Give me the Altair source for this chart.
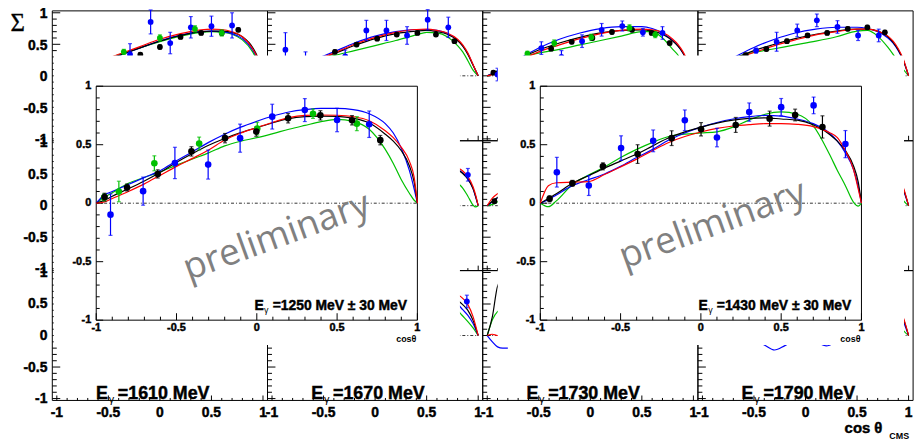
import altair as alt
import pandas as pd

# ======================= DATA =======================
BG_ENERGIES = ["1610", "1670", "1730", "1790"]
INSET_TEXT = ["=1250 MeV \u00b1 30 MeV", "=1430 MeV \u00b1 30 MeV"]

# ---- inset 1 : E = 1250 MeV ----
I1_A_COS = [-0.948, -0.808, -0.617, -0.407, -0.198, -0.003, 0.195, 0.396, 0.593, 0.769]
I1_A_SIG = [0.052, 0.134, 0.250, 0.443, 0.556, 0.612, 0.726, 0.751, 0.709, 0.539]
I1_A_ERR = [0.033, 0.030, 0.035, 0.040, 0.040, 0.040, 0.040, 0.040, 0.040, 0.040]
I1_B_COS = [-0.911, -0.708, -0.510, -0.303, -0.104, 0.096, 0.299, 0.500, 0.700]
I1_B_SIG = [-0.098, 0.103, 0.344, 0.330, 0.556, 0.740, 0.796, 0.711, 0.675]
I1_B_ERR = [0.177, 0.120, 0.134, 0.124, 0.120, 0.106, 0.098, 0.100, 0.113]
I1_C_COS = [-0.950, -0.859, -0.638, -0.359, 0.003, 0.350, 0.623]
I1_C_SIG = [0.050, 0.100, 0.341, 0.510, 0.638, 0.765, 0.680]
I1_C_ERR = [0.030, 0.088, 0.064, 0.055, 0.054, 0.040, 0.060]

I_CURVE_COS = [-1.0, -0.95, -0.9, -0.8, -0.7, -0.6, -0.5, -0.4, -0.3, -0.2, -0.1, 0.0,
               0.1, 0.2, 0.3, 0.4, 0.5, 0.6, 0.7, 0.8, 0.85, 0.9, 0.95, 0.98, 1.0]
I1_M1 = [0, 0.024, 0.06, 0.123, 0.19, 0.264, 0.35, 0.425, 0.495, 0.553, 0.603, 0.646,
         0.688, 0.723, 0.740, 0.745, 0.742, 0.726, 0.685, 0.59, 0.53, 0.448, 0.32, 0.18, 0]
I1_M2 = [0, 0.01, 0.04, 0.10, 0.165, 0.24, 0.315, 0.383, 0.455, 0.54, 0.60, 0.646,
         0.692, 0.731, 0.75, 0.754, 0.752, 0.74, 0.705, 0.62, 0.56, 0.477, 0.36, 0.22, 0]
I1_M3 = [0, 0.07, 0.10, 0.16, 0.22, 0.28, 0.363, 0.44, 0.52, 0.59, 0.65, 0.70,
         0.745, 0.78, 0.80, 0.81, 0.81, 0.80, 0.765, 0.68, 0.60, 0.47, 0.28, 0.12, 0]
I1_M4 = [0, 0.05, 0.09, 0.17, 0.22, 0.27, 0.325, 0.378, 0.43, 0.49, 0.53, 0.56,
         0.595, 0.632, 0.665, 0.697, 0.717, 0.70, 0.632, 0.46, 0.34, 0.20, 0.085, 0.025, 0]

# ---- inset 2 : E = 1430 MeV ----
I2_A_COS = [-0.942, -0.800, -0.610, -0.394, -0.182, 0.001, 0.217, 0.428, 0.587, 0.757]
I2_A_SIG = [0.038, 0.170, 0.315, 0.420, 0.556, 0.632, 0.669, 0.723, 0.754, 0.652]
I2_A_ERR = [0.025, 0.025, 0.030, 0.080, 0.063, 0.057, 0.064, 0.064, 0.050, 0.095]
I2_B_COS = [-0.897, -0.698, -0.497, -0.297, -0.100, 0.100, 0.301, 0.500, 0.702, 0.900]
I2_B_SIG = [0.265, 0.151, 0.471, 0.533, 0.709, 0.561, 0.779, 0.821, 0.836, 0.505]
I2_B_ERR = [0.127, 0.085, 0.105, 0.093, 0.088, 0.079, 0.078, 0.074, 0.071, 0.116]
I2_M1 = [0, 0.04, 0.08, 0.17, 0.235, 0.30, 0.36, 0.42, 0.49, 0.56, 0.61, 0.65,
         0.685, 0.71, 0.725, 0.73, 0.72, 0.71, 0.67, 0.59, 0.53, 0.45, 0.32, 0.18, 0]
I2_M2 = [0, 0.15, 0.175, 0.18, 0.185, 0.245, 0.31, 0.377, 0.45, 0.519, 0.57, 0.609,
         0.64, 0.66, 0.672, 0.68, 0.68, 0.674, 0.655, 0.604, 0.56, 0.448, 0.29, 0.12, 0]
I2_M3 = [0, 0.03, 0.07, 0.15, 0.20, 0.25, 0.315, 0.39, 0.46, 0.54, 0.60, 0.65,
         0.69, 0.72, 0.74, 0.75, 0.745, 0.72, 0.68, 0.60, 0.53, 0.43, 0.29, 0.14, 0]
I2_M4 = [0, -0.03, 0.02, 0.16, 0.24, 0.31, 0.39, 0.46, 0.52, 0.57, 0.59, 0.60,
         0.61, 0.65, 0.71, 0.76, 0.78, 0.76, 0.66, 0.42, 0.28, 0.15, 0.01, -0.025, 0]

# ---- background grid, top row (only the upper part is visible) ----
T0_A_COS = [-0.19, 0.0, 0.20, 0.40, 0.60, 0.76]
T0_A_SIG = [0.335, 0.457, 0.617, 0.68, 0.68, 0.73]
T0_A_ERR = [0.03, 0.03, 0.03, 0.03, 0.03, 0.03]
T0_B_COS = [-0.29, -0.09, 0.10, 0.30, 0.50, 0.70]
T0_B_SIG = [0.34, 0.855, 0.52, 0.77, 0.787, 0.80]
T0_B_ERR = [0.17, 0.19, 0.17, 0.17, 0.16, 0.20]
T0_C_COS = [-0.35, 0.0, 0.34, 0.60]
T0_C_SIG = [0.38, 0.60, 0.745, 0.68]
T0_C_ERR = [0.04, 0.05, 0.05, 0.05]
T0_CURVE_COS = [-0.6, -0.5, -0.35, -0.2, 0.0, 0.2, 0.4, 0.5, 0.6, 0.7, 0.8, 0.9, 0.95, 1.0]
T0_M1 = [0.20, 0.27, 0.35, 0.44, 0.55, 0.64, 0.70, 0.71, 0.71, 0.69, 0.62, 0.45, 0.29, 0]
T0_M2 = [0.20, 0.28, 0.37, 0.46, 0.58, 0.67, 0.73, 0.74, 0.735, 0.70, 0.62, 0.43, 0.27, 0]
T0_M3 = [0.20, 0.27, 0.35, 0.44, 0.555, 0.645, 0.70, 0.71, 0.70, 0.67, 0.59, 0.41, 0.26, 0]
T0_M4 = [0.21, 0.28, 0.36, 0.44, 0.54, 0.63, 0.69, 0.70, 0.69, 0.66, 0.57, 0.38, 0.22, 0]

T1_A_COS = [-0.39, -0.18, 0.02, 0.21, 0.41, 0.59, 0.77]
T1_A_SIG = [0.38, 0.495, 0.59, 0.655, 0.68, 0.655, 0.55]
T1_A_ERR = [0.03, 0.03, 0.03, 0.03, 0.03, 0.03, 0.03]
T1_B_COS = [-0.87, -0.675, -0.29, -0.085, 0.11, 0.31, 0.51, 0.71]
T1_B_SIG = [0.415, 0.18, 0.31, 0.72, 0.72, 0.64, 0.89, 0.77]
T1_B_ERR = [0.27, 0.20, 0.10, 0.16, 0.16, 0.14, 0.16, 0.16]
T1_CURVE_COS = [-0.6, -0.4, -0.2, 0.0, 0.2, 0.4, 0.5, 0.6, 0.7, 0.8, 0.85, 0.9, 0.95, 1.0]
T1_M1 = [0.23, 0.35, 0.48, 0.59, 0.67, 0.71, 0.72, 0.70, 0.66, 0.56, 0.47, 0.34, 0.17, 0]
T1_M2 = [0.24, 0.36, 0.50, 0.61, 0.69, 0.735, 0.74, 0.72, 0.68, 0.58, 0.49, 0.36, 0.18, 0]
T1_M3 = [0.25, 0.38, 0.52, 0.63, 0.70, 0.735, 0.735, 0.72, 0.67, 0.57, 0.48, 0.35, 0.17, 0]
T1_M4 = [0.22, 0.32, 0.40, 0.48, 0.56, 0.65, 0.69, 0.68, 0.62, 0.48, 0.38, 0.24, 0.09, 0]

T2_A_COS = [-0.94, -0.38, -0.18, 0.02, 0.21, 0.405, 0.595, 0.77]
T2_A_SIG = [0.05, 0.43, 0.54, 0.60, 0.695, 0.73, 0.68, 0.52]
T2_A_ERR = [0.03, 0.03, 0.03, 0.03, 0.03, 0.03, 0.03, 0.03]
T2_B_COS = [-0.90, -0.475, -0.28, -0.08, 0.11, 0.31, 0.51, 0.70]
T2_B_SIG = [0.02, 0.44, 0.30, 0.55, 0.73, 0.79, 0.69, 0.68]
T2_B_ERR = [0.10, 0.10, 0.10, 0.10, 0.10, 0.08, 0.06, 0.10]
T2_C_COS = [-0.61, -0.35, 0.01, 0.38, 0.63]
T2_C_SIG = [0.35, 0.52, 0.61, 0.76, 0.655]
T2_C_ERR = [0.04, 0.05, 0.05, 0.05, 0.05]
T2_CURVE_COS = [-1.0, -0.95, -0.9, -0.8, -0.65, -0.5, -0.3, -0.1, 0.1, 0.3, 0.5, 0.6, 0.7,
                0.8, 0.85, 0.9, 0.95, 1.0]
T2_M1 = [0, 0.03, 0.07, 0.16, 0.30, 0.41, 0.52, 0.61, 0.68, 0.72, 0.73, 0.71, 0.66, 0.55, 0.47, 0.36, 0.20, 0]
T2_M2 = [0, 0.02, 0.05, 0.13, 0.27, 0.38, 0.49, 0.59, 0.67, 0.72, 0.74, 0.73, 0.69, 0.58, 0.50, 0.38, 0.21, 0]
T2_M3 = [0, 0.04, 0.08, 0.17, 0.31, 0.44, 0.58, 0.68, 0.75, 0.78, 0.78, 0.75, 0.68, 0.56, 0.48, 0.36, 0.20, 0]
T2_M4 = [0, 0.03, 0.08, 0.17, 0.30, 0.36, 0.42, 0.49, 0.56, 0.63, 0.70, 0.70, 0.60, 0.42, 0.33, 0.20, 0.08, 0]

T3_A_COS = [-0.58, -0.38, -0.18, 0.02, 0.21, 0.41, 0.60, 0.77]
T3_A_SIG = [0.33, 0.425, 0.55, 0.64, 0.68, 0.745, 0.77, 0.69]
T3_A_ERR = [0.03, 0.03, 0.03, 0.03, 0.03, 0.03, 0.03, 0.03]
T3_B_COS = [-0.48, -0.28, -0.08, 0.11, 0.31, 0.51, 0.71]
T3_B_SIG = [0.40, 0.54, 0.72, 0.88, 0.775, 0.64, 0.64]
T3_B_ERR = [0.04, 0.15, 0.10, 0.10, 0.10, 0.08, 0.10]
T3_CURVE_COS = [-0.8, -0.65, -0.5, -0.3, -0.1, 0.1, 0.3, 0.5, 0.6, 0.7, 0.8, 0.85, 0.9, 0.95, 1.0]
T3_M1 = [0.18, 0.30, 0.40, 0.50, 0.59, 0.66, 0.71, 0.74, 0.74, 0.71, 0.62, 0.53, 0.41, 0.24, 0]
T3_M2 = [0.16, 0.28, 0.37, 0.48, 0.57, 0.65, 0.70, 0.74, 0.74, 0.71, 0.63, 0.55, 0.43, 0.26, 0]
T3_M3 = [0.20, 0.33, 0.45, 0.58, 0.68, 0.74, 0.77, 0.77, 0.75, 0.70, 0.60, 0.52, 0.40, 0.24, 0]
T3_M4 = [0.19, 0.31, 0.37, 0.43, 0.49, 0.55, 0.62, 0.71, 0.72, 0.63, 0.45, 0.34, 0.22, 0.10, 0]

# ---- middle row (only slivers visible) ----
M1_B_COS = [0.90]
M1_B_SIG = [0.49]
M1_B_ERR = [0.10]
M1_CURVE_COS = [0.6, 0.7, 0.8, 0.85, 0.9, 0.95, 0.975, 1.0]
M1_M1 = [0.70, 0.66, 0.57, 0.51, 0.42, 0.27, 0.15, 0]
M1_M2 = [0.72, 0.68, 0.60, 0.55, 0.46, 0.30, 0.17, 0]
M1_M3 = [0.71, 0.67, 0.58, 0.52, 0.43, 0.27, 0.14, 0]
M1_M4 = [0.60, 0.50, 0.36, 0.28, 0.15, 0.01, -0.02, 0]
M2_A_COS = [-0.93]
M2_A_SIG = [0.07]
M2_A_ERR = [0.03]
M2_CURVE_COS = [-1.0, -0.95, -0.9, -0.8, -0.6]
M2_M1 = [0, 0.07, 0.13, 0.22, 0.35]
M2_M2 = [0, 0.12, 0.19, 0.25, 0.35]
M2_M3 = [0, 0.06, 0.12, 0.21, 0.34]
M2_M4 = [0, 0.02, 0.06, 0.15, 0.30]
M3_CURVE_COS = [0.8, 0.9, 0.95, 1.0]
M3_M1 = [0.60, 0.42, 0.26, 0]
M3_M2 = [0.62, 0.45, 0.28, 0]
M3_M3 = [0.58, 0.40, 0.24, 0]
M3_M4 = [0.45, 0.22, 0.08, 0]

# ---- bottom row ----
B1_B_COS = [0.89]
B1_B_SIG = [0.54]
B1_B_ERR = [0.10]
B1_CURVE_COS = [0.7, 0.8, 0.85, 0.9, 0.95, 1.0]
B1_M1 = [0.66, 0.56, 0.49, 0.40, 0.24, 0]
B1_M2 = [0.74, 0.65, 0.59, 0.49, 0.30, 0]
B1_M3 = [0.62, 0.50, 0.41, 0.32, 0.19, 0]
B1_M4 = [0.55, 0.40, 0.31, 0.22, 0.12, 0]
B2_CURVE_COS = [-1.0, -0.95, -0.9, -0.85, -0.8]
B2_M1 = [0, 0.30, 0.78, 0.90, 0.90]
B2_M2 = [0, 0.02, 0.00, 0.02, 0.05]
B2_M3 = [0, -0.10, -0.18, -0.20, -0.20]
B2_M4 = [0, 0.25, 0.38, 0.42, 0.45]
B3_CURVE_COS = [-0.6, -0.5, -0.4, -0.3, -0.2, -0.1, 0.0, 0.1, 0.2, 0.3, 0.4, 0.8, 0.9, 0.95, 1.0]
B3_M3 = [0.0, -0.07, -0.15, -0.23, -0.16, -0.08, -0.04, -0.10, -0.165, -0.10, 0.0, 0.55, 0.38, 0.22, 0]
B3_END_COS = [0.8, 0.9, 0.95, 1.0]
B3_M1 = [0.60, 0.42, 0.26, 0]
B3_M2 = [0.62, 0.45, 0.28, 0]
B3_M4 = [0.45, 0.22, 0.08, 0]

# axis ticks and labels
TICKS = [-1.0, -0.9, -0.8, -0.7, -0.6, -0.5, -0.4, -0.3, -0.2, -0.1, 0.0,
         0.1, 0.2, 0.3, 0.4, 0.5, 0.6, 0.7, 0.8, 0.9, 1.0]
MAJOR = [-1.0, -0.5, 0.0, 0.5, 1.0]
LABELS = ["-1", "-0.5", "0", "0.5", "1"]

# ======================= LAYOUT / STYLE =======================
PAGE = 8
W, H = 914, 434
COL_EDGES = [52.7, 269.8, 486.9, 704.0, 921.1]
ROW_EDGES = [9.0, 140.0, 271.0, 402.0]
BG_XD, BG_YD = 1.0438, 1.03
INSET_X = [(97, 421), (545, 869)]
INSET_Y = (321, 85)
WHITE = (1.265, -1.212, 1.263)

FONT = "Liberation Sans"
BOLD = dict(font=FONT, fontWeight="bold", stroke="black", strokeWidth=0.45)
SETS = ["A", "B", "C", "M1", "M2", "M3", "M4"]
COLORS = ["#000000", "#0000ff", "#00c000", "#000000", "#ff0000", "#0000ff", "#00c000"]
COL = alt.Color("set:N", scale=alt.Scale(domain=SETS, range=COLORS), legend=None)


def lin(dom, rng):
    return alt.Scale(domain=dom, range=rng, nice=False, zero=False)


def pts_table(sets):
    rows = []
    for name, (c, s, e) in sets.items():
        for ci, si, ei in zip(c, s, e):
            rows.append({"cos": ci, "sig": si, "lo": si - ei, "hi": si + ei, "set": name})
    return pd.DataFrame(rows)


def curve_table(groups):
    rows = []
    for name, (c, v) in groups.items():
        for ci, vi in zip(c, v):
            rows.append({"cos": ci, "sig": vi, "set": name})
    return pd.DataFrame(rows)


def panel(xsc, ysc, xd, yd, tk, points=None, curves=None, pt_size=36, white=False,
          ylab=None, xlab=None, texts=()):
    X = lambda f: alt.X(f, type="quantitative", scale=xsc, axis=None)
    Y = lambda f: alt.Y(f, type="quantitative", scale=ysc, axis=None)
    L = []
    if white:
        wx, wy0, wy1 = WHITE
        L.append(alt.Chart(pd.DataFrame({"a": [-wx], "b": [wx], "c": [wy0], "d": [wy1]}))
                 .mark_rect(fill="white").encode(x=X("a"), x2="b", y=Y("c"), y2="d"))
    # frame
    L.append(alt.Chart(pd.DataFrame({"a": [-xd], "b": [xd], "c": [-yd], "d": [yd]}))
             .mark_rect(fillOpacity=0, stroke="black", strokeWidth=1)
             .encode(x=X("a"), x2="b", y=Y("c"), y2="d"))
    # y-axis ticks (left, inward)
    ydf = pd.DataFrame({"v": TICKS, "a": -xd,
                        "b": [-xd + (tk[0] if v in MAJOR else tk[1]) for v in TICKS]})
    L.append(alt.Chart(ydf).mark_rule(color="black", strokeWidth=1)
             .encode(x=X("a"), x2="b", y=Y("v")))
    # x-axis ticks (bottom, inward)
    xdf = pd.DataFrame({"v": TICKS, "a": -yd,
                        "b": [-yd + (tk[2] if v in MAJOR else tk[3]) for v in TICKS]})
    L.append(alt.Chart(xdf).mark_rule(color="black", strokeWidth=1)
             .encode(x=X("v"), y=Y("a"), y2="b"))
    # zero line
    L.append(alt.Chart(pd.DataFrame({"a": [-1.0], "b": [1.0], "z": [0.0]}))
             .mark_rule(color="black", strokeWidth=0.8, strokeDash=[3, 2, 1, 2])
             .encode(x=X("a"), x2="b", y=Y("z")))
    if curves:
        L.append(alt.Chart(curve_table(curves))
                 .mark_line(interpolate="monotone", strokeWidth=1.2)
                 .encode(x=X("cos"), y=Y("sig"), color=COL))
    if points:
        pdf = pts_table(points)
        L.append(alt.Chart(pdf).mark_rule(strokeWidth=1.2)
                 .encode(x=X("cos"), y=Y("lo"), y2="hi", color=COL))
        L.append(alt.Chart(pdf).transform_fold(["lo", "hi"], as_=["end", "yv"])
                 .mark_tick(orient="horizontal", size=4, thickness=1.2)
                 .encode(x=X("cos"), y=Y("yv:Q"), color=COL))
        L.append(alt.Chart(pdf).mark_circle(size=pt_size, opacity=1)
                 .encode(x=X("cos"), y=Y("sig"), color=COL))
    if ylab:
        size, dx, dy = ylab
        L.append(alt.Chart(pd.DataFrame({"v": MAJOR, "t": LABELS, "a": -xd}))
                 .mark_text(align="right", baseline="middle", dx=dx, dy=dy, fontSize=size,
                            color="black", **BOLD)
                 .encode(x=X("a"), y=Y("v"), text="t:N"))
    if xlab:
        size, dy = xlab
        L.append(alt.Chart(pd.DataFrame({"v": MAJOR, "t": LABELS, "a": -yd}))
                 .mark_text(align="center", baseline="middle", dy=dy, fontSize=size,
                            color="black", **BOLD)
                 .encode(x=X("v"), y=Y("a"), text="t:N"))
    for (xv, yv, txt, props) in texts:
        p = dict(font=FONT, color="black")
        p.update(props)
        L.append(alt.Chart(pd.DataFrame({"a": [xv], "b": [yv], "t": [txt]}))
                 .mark_text(**p).encode(x=X("a"), y=Y("b"), text="t:N"))
    return alt.layer(*L)


# background tick lengths (data units)
bg_px_x = (COL_EDGES[1] - COL_EDGES[0]) / (2 * BG_XD)
bg_px_y = (ROW_EDGES[1] - ROW_EDGES[0]) / (2 * BG_YD)
BG_TK = (8 / bg_px_x, 4.5 / bg_px_x, 5 / bg_px_y, 2.5 / bg_px_y)

bg_points = {
    (0, 0): {"A": (T0_A_COS, T0_A_SIG, T0_A_ERR), "B": (T0_B_COS, T0_B_SIG, T0_B_ERR),
             "C": (T0_C_COS, T0_C_SIG, T0_C_ERR)},
    (0, 1): {"A": (T1_A_COS, T1_A_SIG, T1_A_ERR), "B": (T1_B_COS, T1_B_SIG, T1_B_ERR)},
    (0, 2): {"A": (T2_A_COS, T2_A_SIG, T2_A_ERR), "B": (T2_B_COS, T2_B_SIG, T2_B_ERR),
             "C": (T2_C_COS, T2_C_SIG, T2_C_ERR)},
    (0, 3): {"A": (T3_A_COS, T3_A_SIG, T3_A_ERR), "B": (T3_B_COS, T3_B_SIG, T3_B_ERR)},
    (1, 1): {"B": (M1_B_COS, M1_B_SIG, M1_B_ERR)},
    (1, 2): {"A": (M2_A_COS, M2_A_SIG, M2_A_ERR)},
    (2, 1): {"B": (B1_B_COS, B1_B_SIG, B1_B_ERR)},
}


def four(c, m1, m2, m3, m4):
    return {"M4": (c, m4), "M3": (c, m3), "M1": (c, m1), "M2": (c, m2)}


bg_curves = {
    (0, 0): four(T0_CURVE_COS, T0_M1, T0_M2, T0_M3, T0_M4),
    (0, 1): four(T1_CURVE_COS, T1_M1, T1_M2, T1_M3, T1_M4),
    (0, 2): four(T2_CURVE_COS, T2_M1, T2_M2, T2_M3, T2_M4),
    (0, 3): four(T3_CURVE_COS, T3_M1, T3_M2, T3_M3, T3_M4),
    (1, 1): four(M1_CURVE_COS, M1_M1, M1_M2, M1_M3, M1_M4),
    (1, 2): four(M2_CURVE_COS, M2_M1, M2_M2, M2_M3, M2_M4),
    (1, 3): four(M3_CURVE_COS, M3_M1, M3_M2, M3_M3, M3_M4),
    (2, 1): four(B1_CURVE_COS, B1_M1, B1_M2, B1_M3, B1_M4),
    (2, 2): four(B2_CURVE_COS, B2_M1, B2_M2, B2_M3, B2_M4),
    (2, 3): {"M4": (B3_END_COS, B3_M4), "M3": (B3_CURVE_COS, B3_M3),
             "M1": (B3_END_COS, B3_M1), "M2": (B3_END_COS, B3_M2)},
}

panels = []
for r in range(3):
    for c in range(4):
        xsc = lin([-BG_XD, BG_XD], [COL_EDGES[c] - PAGE, COL_EDGES[c + 1] - PAGE])
        ysc = lin([-BG_YD, BG_YD], [ROW_EDGES[r + 1] - PAGE, ROW_EDGES[r] - PAGE])
        texts = []
        if r == 2:
            e = BG_ENERGIES[c]
            texts += [
                (-0.62, -1.0, "E", dict(align="left", baseline="alphabetic", fontSize=18, **BOLD)),
                (-0.62, -1.0, "\u03b3", dict(align="left", baseline="alphabetic", fontSize=11, dx=12.8, dy=4)),
                (-0.62, -1.0, "=" + e + " MeV", dict(align="left", baseline="alphabetic", fontSize=18,
                                                    dx=22, **BOLD)),
            ]
        if r == 0 and c == 0:
            texts.append((-BG_XD, BG_YD, "\u03a3", dict(align="center", baseline="middle", fontSize=25,
                                                        font="Liberation Serif", dx=-35, dy=12,
                                                        stroke="black", strokeWidth=0.3)))
        if r == 2 and c == 3:
            texts += [
                (BG_XD, -BG_YD, "cos \u03b8", dict(align="right", baseline="alphabetic", fontSize=15,
                                                   dx=-31, dy=33, **BOLD)),
                (BG_XD, -BG_YD, "CMS", dict(align="right", baseline="alphabetic", fontSize=9,
                                            dx=-4, dy=39, font=FONT, fontWeight="bold")),
            ]
        panels.append(panel(
            xsc, ysc, BG_XD, BG_YD, BG_TK,
            points=bg_points.get((r, c)), curves=bg_curves.get((r, c)), pt_size=34,
            ylab=(14, -5, 1.5 if r == 0 else 0.5) if c == 0 else None,
            xlab=(14, 13) if r == 2 else None,
            texts=texts))

# insets
in_px_x = (INSET_X[0][1] - INSET_X[0][0]) / 2
in_px_y = (INSET_Y[0] - INSET_Y[1]) / 2
IN_TK = (7 / in_px_x, 3.5 / in_px_x, 7 / in_px_y, 3.5 / in_px_y)

inset_points = [
    {"C": (I1_C_COS, I1_C_SIG, I1_C_ERR), "B": (I1_B_COS, I1_B_SIG, I1_B_ERR),
     "A": (I1_A_COS, I1_A_SIG, I1_A_ERR)},
    {"B": (I2_B_COS, I2_B_SIG, I2_B_ERR), "A": (I2_A_COS, I2_A_SIG, I2_A_ERR)},
]
inset_curves = [
    four(I_CURVE_COS, I1_M1, I1_M2, I1_M3, I1_M4),
    four(I_CURVE_COS, I2_M1, I2_M2, I2_M3, I2_M4),
]
PRELIM_POS = [(0.124, -0.288), (0.074, -0.186)]

for k in range(2):
    xsc = lin([-1, 1], [INSET_X[k][0] - PAGE, INSET_X[k][1] - PAGE])
    ysc = lin([-1, 1], [INSET_Y[0] - PAGE, INSET_Y[1] - PAGE])
    texts = [
        (-0.015, -0.915, "E", dict(align="left", baseline="alphabetic", fontSize=14, **BOLD)),
        (-0.015, -0.915, "\u03b3", dict(align="left", baseline="alphabetic", fontSize=9, dx=9.8, dy=3)),
        (-0.015, -0.915, INSET_TEXT[k], dict(align="left", baseline="alphabetic", fontSize=14,
                                             dx=18.5, **BOLD)),
        (1.0, -1.0, "cos\u03b8", dict(align="right", baseline="middle", fontSize=9,
                                      font=FONT, fontWeight="bold", dx=-1, dy=19)),
        (PRELIM_POS[k][0], PRELIM_POS[k][1], "preliminary",
         dict(align="center", baseline="middle", fontSize=37, font="Open Sans",
              color="#808080", angle=340)),
    ]
    panels.append(panel(xsc, ysc, 1.0, 1.0, IN_TK,
                        points=inset_points[k], curves=inset_curves[k], pt_size=44,
                        white=True, ylab=(11, -5, 0), xlab=(11, 8), texts=texts))

chart = (alt.layer(*panels)
         .resolve_scale(x="independent", y="independent")
         .properties(width=W, height=H, padding=0,
                     autosize=alt.AutoSizeParams(type="none"))
         .configure_view(stroke=None))

chart.save("out.html", embed_options={"renderer": "svg", "actions": False})
